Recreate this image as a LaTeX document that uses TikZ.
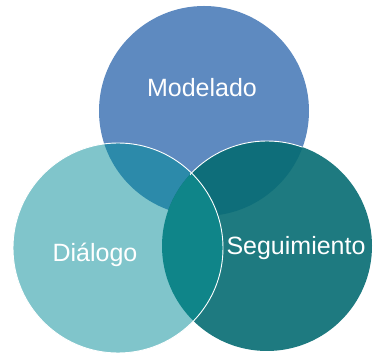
\documentclass[tikz,border=0pt]{standalone}
\usepackage{fontspec}
\setsansfont{Liberation Sans}
\definecolor{modblue}{HTML}{5E8AC0}
\definecolor{dialight}{HTML}{80C5CB}
\definecolor{segteal}{HTML}{1E7A80}
\definecolor{moddia}{HTML}{2C8AAA}
\definecolor{modseg}{HTML}{0E6E7A}
\definecolor{diaseg}{HTML}{0F8589}
\tikzset{
  ring/.style={draw=white, line width=0.9pt},
  label text/.style={text=white, font=\sffamily\fontsize{25}{29}\selectfont}
}
\begin{document}
\begin{tikzpicture}[x=1pt, y=1pt]
\useasboundingbox (0,0) rectangle (377,355);

% Circles
\coordinate (ctop) at (204,244);
\coordinate (cleft) at (118,107);
\coordinate (cright) at (267,109);
\fill[modblue] (ctop) circle (105pt);
\fill[segteal] (cright) circle (105pt);
\fill[dialight] (cleft) circle (105pt);

% Overlaps
\begin{scope}
  \clip (ctop) circle (105pt);
  \fill[moddia] (cleft) circle (105pt);
  \fill[modseg] (cright) circle (105pt);
\end{scope}
\begin{scope}
  \clip (cleft) circle (105pt);
  \fill[diaseg] (cright) circle (105pt);
\end{scope}

% White edges
\draw[ring] (cleft) circle (105pt);
\begin{scope}
  \clip (ctop) circle (105pt);
  \clip (190,0) rectangle (377,355);
  \draw[ring] (cright) circle (105pt);
\end{scope}

% Labels
\node[label text] (modelado) at (202,267) {Modelado};
\node[label text] (dialogo) at (95,100) {Diálogo};
\node[label text] (seguimiento) at (296,107) {Seguimiento};

\end{tikzpicture}
\end{document}
